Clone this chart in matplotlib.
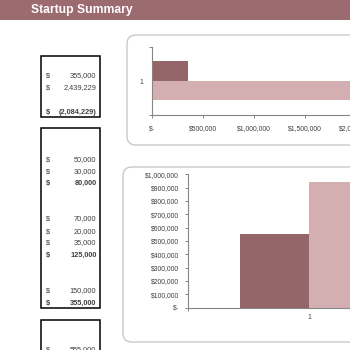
import matplotlib
matplotlib.use('Agg')
import matplotlib.pyplot as plt
from matplotlib.patches import Rectangle, FancyBboxPatch
from matplotlib.ticker import FuncFormatter, FixedLocator

# Summary table values
expense_vals = ['355,000', '2,439,229', '(2,084,229)']
expense_bold = [False, False, True]
detail_vals = ['50,000', '30,000', '80,000', '70,000', '20,000', '35,000',
               '125,000', '150,000', '355,000']
detail_bold = [False, False, True, False, False, False, True, False, True]
lower_vals = ['555,000']

# Chart values
funding_labels = ['Startup expenses', 'Startup funding']
funding_vals = [355000, 2439229]
assets_labels = ['Assets', 'Investment']
assets_vals = [555000, 940000]

dark = '#946569'
light = '#d4afb2'
header_col = '#9c6b70'
axis_col = '#868686'
text_col = '#404040'

W = H = 350.0


def fx(x):
    return x / W


def fy(y):
    return 1 - y / H


def money(v, pos=None):
    if v == 0:
        return '$-'
    return '${:,.0f}'.format(v)


plt.rcParams['font.family'] = ['Liberation Sans', 'DejaVu Sans']

fig = plt.figure(figsize=(3.5, 3.5), dpi=100)
fig.patch.set_facecolor('white')

# header bar
fig.patches.append(Rectangle((0, fy(20)), 1, 20 / H, transform=fig.transFigure,
                             facecolor=header_col, edgecolor='none'))
fig.text(fx(31), fy(10.5), 'Startup Summary', color='white', fontsize=8.7,
         fontweight='bold', va='center', ha='left')

# table boxes
for top, bot in [(56, 117), (128, 308), (320, 360)]:
    fig.patches.append(Rectangle((fx(41), fy(bot)), 59 / W, (bot - top) / H,
                                 transform=fig.transFigure, facecolor='none',
                                 edgecolor='black', lw=1.1))


def table_rows(vals, bolds, rows):
    for v, b, y in zip(vals, bolds, rows):
        w = 'bold' if b else 'normal'
        fig.text(fx(46), fy(y), '$', fontsize=5.3, color=text_col, va='center',
                 ha='left', fontweight=w)
        fig.text(fx(96.5), fy(y), v, fontsize=5.3, color=text_col, va='center',
                 ha='right', fontweight=w)


table_rows(expense_vals, expense_bold, [76, 88, 112])
table_rows(detail_vals, detail_bold, [160, 172, 183, 219, 232, 243, 255, 291, 303])
table_rows(lower_vals, [False], [350])

# chart frames
for x0, y0, y1 in [(127, 35, 145), (123, 167, 342)]:
    fig.patches.append(FancyBboxPatch((fx(x0), fy(y1)), (380 - x0) / W, (y1 - y0) / H,
                                      boxstyle='round,pad=0,rounding_size=0.025',
                                      transform=fig.transFigure, facecolor='white',
                                      edgecolor='#c4c4c4', lw=0.9, zorder=0.5))


def style_axes(ax):
    for s in ['top', 'right']:
        ax.spines[s].set_visible(False)
    for s in ['left', 'bottom']:
        ax.spines[s].set_color(axis_col)
        ax.spines[s].set_linewidth(0.8)
    ax.tick_params(colors=axis_col, labelcolor=text_col, labelsize=4.9,
                   length=2.5, width=0.7, direction='out')
    ax.set_facecolor('none')
    ax.set_zorder(2)


# horizontal bar chart (top)
ax1 = fig.add_axes([fx(152), fy(115), (407 - 152) / W, (115 - 47) / H])
ax1.barh(1 + 0.15, funding_vals[0], height=0.3, color=dark)
ax1.barh(1 - 0.14, funding_vals[1], height=0.28, color=light)
ax1.set_xlim(0, 2500000)
ax1.set_ylim(0.5, 1.5)
ax1.xaxis.set_major_locator(FixedLocator([0, 500000, 1000000, 1500000, 2000000, 2500000]))
ax1.xaxis.set_major_formatter(FuncFormatter(money))
ax1.yaxis.set_major_locator(FixedLocator([0.5, 1.5]))
ax1.yaxis.set_minor_locator(FixedLocator([1]))
ax1.set_yticklabels(['', ''])
ax1.set_yticklabels(['1'], minor=True)
style_axes(ax1)
ax1.tick_params(axis='y', which='minor', length=0, labelsize=4.9, labelcolor=text_col, pad=6)
ax1.tick_params(axis='x', pad=5)

# column chart (bottom)
ax2 = fig.add_axes([fx(188), fy(307.5), (430 - 188) / W, (307.5 - 174.3) / H])
bw = 69 / 242
ax2.bar(1 - bw / 2, assets_vals[0], width=bw, color=dark)
ax2.bar(1 + bw / 2, assets_vals[1], width=bw, color=light)
ax2.set_xlim(0.5, 1.5)
ax2.set_ylim(0, 1000000)
ax2.yaxis.set_major_locator(FixedLocator(list(range(0, 1000001, 100000))))
ax2.yaxis.set_major_formatter(FuncFormatter(money))
ax2.xaxis.set_major_locator(FixedLocator([0.5, 1.5]))
ax2.xaxis.set_minor_locator(FixedLocator([1]))
ax2.set_xticklabels(['', ''])
ax2.set_xticklabels(['1'], minor=True)
style_axes(ax2)
ax2.tick_params(axis='x', which='minor', length=0, labelsize=4.9, labelcolor=text_col, pad=5)
ax2.tick_params(axis='y', pad=4)

fig.savefig('out.png', dpi=100)
